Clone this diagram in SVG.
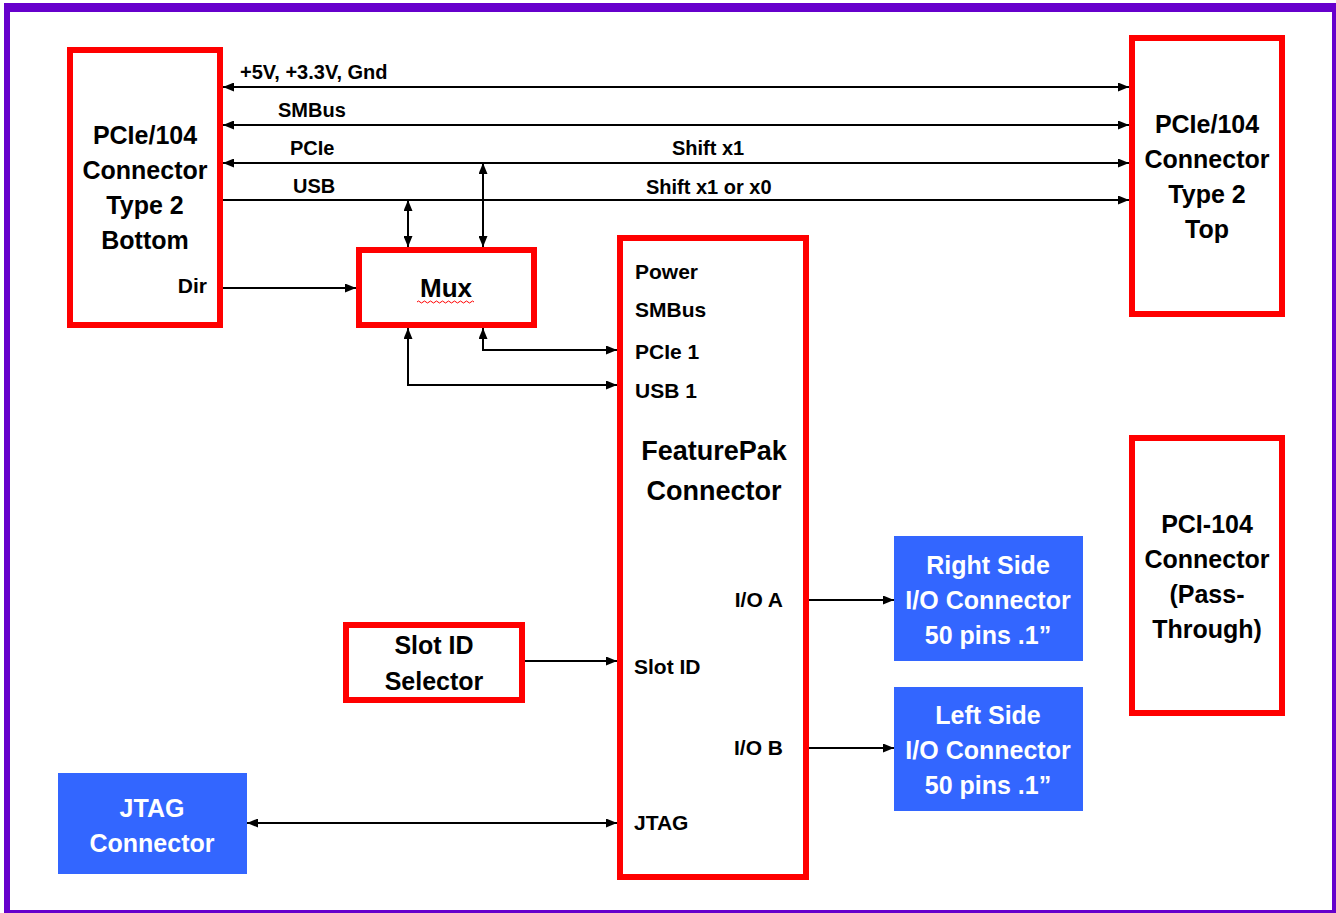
<svg xmlns="http://www.w3.org/2000/svg" width="1336" height="913" viewBox="0 0 1336 913">
<style>
.frame{fill:#6600CC}
.rbox{fill:#FFFFFF;stroke:#FF0000;stroke-width:6}
.bbox{fill:#3366FF}
text{font-family:"Liberation Sans",Arial,sans-serif;font-weight:bold}
.t{font-size:25px;fill:#000;text-anchor:middle}
.w{font-size:25px;fill:#FFF;text-anchor:middle}
.l{font-size:20px;fill:#000}
.p{font-size:21px;fill:#000}
.c line,.c path{fill:none;stroke:#000;stroke-width:2}
.bi{marker-start:url(#ah);marker-end:url(#ah)}
.one{marker-end:url(#ah)}
</style>
<defs>
<marker id="ah" markerUnits="userSpaceOnUse" markerWidth="11" markerHeight="9" refX="11" refY="4.5" orient="auto-start-reverse">
<path d="M0,0 L11,4.5 L0,9 z" fill="#000"/>
</marker>
</defs>
<rect x="0" y="0" width="1336" height="913" fill="#FFFFFF"/>
<path class="frame" fill-rule="evenodd" d="M4,3 H1336 V913 H4 Z M10,12 V910 H1332 V12 Z"/>

<g id="pcie-bottom">
<rect class="rbox" x="70" y="50" width="150" height="275"/>
<text class="t" x="145" y="144">PCIe/104</text>
<text class="t" x="145" y="179">Connector</text>
<text class="t" x="145" y="214">Type 2</text>
<text class="t" x="145" y="249">Bottom</text>
<text class="p" x="207" y="293" text-anchor="end">Dir</text>
</g>

<g id="pcie-top">
<rect class="rbox" x="1132" y="38" width="150" height="276"/>
<text class="t" x="1207" y="133">PCIe/104</text>
<text class="t" x="1207" y="168">Connector</text>
<text class="t" x="1207" y="203">Type 2</text>
<text class="t" x="1207" y="238">Top</text>
</g>

<g id="pci104">
<rect class="rbox" x="1132" y="438" width="150" height="275"/>
<text class="t" x="1207" y="533">PCI-104</text>
<text class="t" x="1207" y="568">Connector</text>
<text class="t" x="1207" y="603">(Pass-</text>
<text class="t" x="1207" y="638">Through)</text>
</g>

<g id="mux">
<rect class="rbox" x="359" y="250" width="175" height="75"/>
<text class="t" x="446" y="297" style="font-size:26px">Mux</text>
<path d="M417,302 q1.5,-2 3,0 t3,0 t3,0 t3,0 t3,0 t3,0 t3,0 t3,0 t3,0 t3,0 t3,0 t3,0 t3,0 t3,0 t3,0 t3,0 t3,0 t3,0 t3,0" fill="none" stroke="#FF0000" stroke-width="1"/>
</g>

<g id="featurepak">
<rect class="rbox" x="620" y="238" width="186" height="639"/>
<text class="p" x="635" y="279">Power</text>
<text class="p" x="635" y="317">SMBus</text>
<text class="p" x="635" y="359">PCIe 1</text>
<text class="p" x="635" y="398">USB 1</text>
<text class="t" x="714" y="460" style="font-size:27px">FeaturePak</text>
<text class="t" x="714" y="500" style="font-size:27px">Connector</text>
<text class="p" x="783" y="607" text-anchor="end">I/O A</text>
<text class="p" x="783" y="755" text-anchor="end">I/O B</text>
<text class="p" x="634" y="674">Slot ID</text>
<text class="p" x="634" y="830">JTAG</text>
</g>

<g id="slot-id">
<rect class="rbox" x="346" y="625" width="176" height="75"/>
<text class="t" x="434" y="654">Slot ID</text>
<text class="t" x="434" y="690">Selector</text>
</g>

<g id="right-io">
<rect class="bbox" x="894" y="536" width="189" height="125"/>
<text class="w" x="988" y="574">Right Side</text>
<text class="w" x="988" y="609">I/O Connector</text>
<text class="w" x="988" y="644">50 pins .1”</text>
</g>

<g id="left-io">
<rect class="bbox" x="894" y="687" width="189" height="124"/>
<text class="w" x="988" y="724">Left Side</text>
<text class="w" x="988" y="759">I/O Connector</text>
<text class="w" x="988" y="794">50 pins .1”</text>
</g>

<g id="jtag">
<rect class="bbox" x="58" y="773" width="189" height="101"/>
<text class="w" x="152" y="817">JTAG</text>
<text class="w" x="152" y="852">Connector</text>
</g>

<g id="connectors" class="c">
<line class="bi" x1="223" y1="87" x2="1129" y2="87"/>
<line class="bi" x1="223" y1="125" x2="1129" y2="125"/>
<line class="bi" x1="223" y1="163" x2="1129" y2="163"/>
<line class="one" x1="223" y1="200" x2="1129" y2="200"/>
<line class="bi" x1="408" y1="200" x2="408" y2="247"/>
<line class="bi" x1="483" y1="163" x2="483" y2="247"/>
<line class="one" x1="223" y1="288" x2="356" y2="288"/>
<path class="bi" d="M408,328 V385 H617"/>
<path class="bi" d="M483,328 V350 H617"/>
<line class="one" x1="525" y1="661" x2="617" y2="661"/>
<line class="bi" x1="247" y1="823" x2="617" y2="823"/>
<line class="one" x1="809" y1="600" x2="894" y2="600"/>
<line class="one" x1="809" y1="748" x2="894" y2="748"/>
</g>
<g id="line-labels">
<text class="l" x="240" y="79">+5V, +3.3V, Gnd</text>
<text class="l" x="278" y="117">SMBus</text>
<text class="l" x="290" y="155">PCIe</text>
<text class="l" x="293" y="193">USB</text>
<text class="l" x="672" y="155">Shift x1</text>
<text class="l" x="646" y="194">Shift x1 or x0</text>
</g>
</svg>
